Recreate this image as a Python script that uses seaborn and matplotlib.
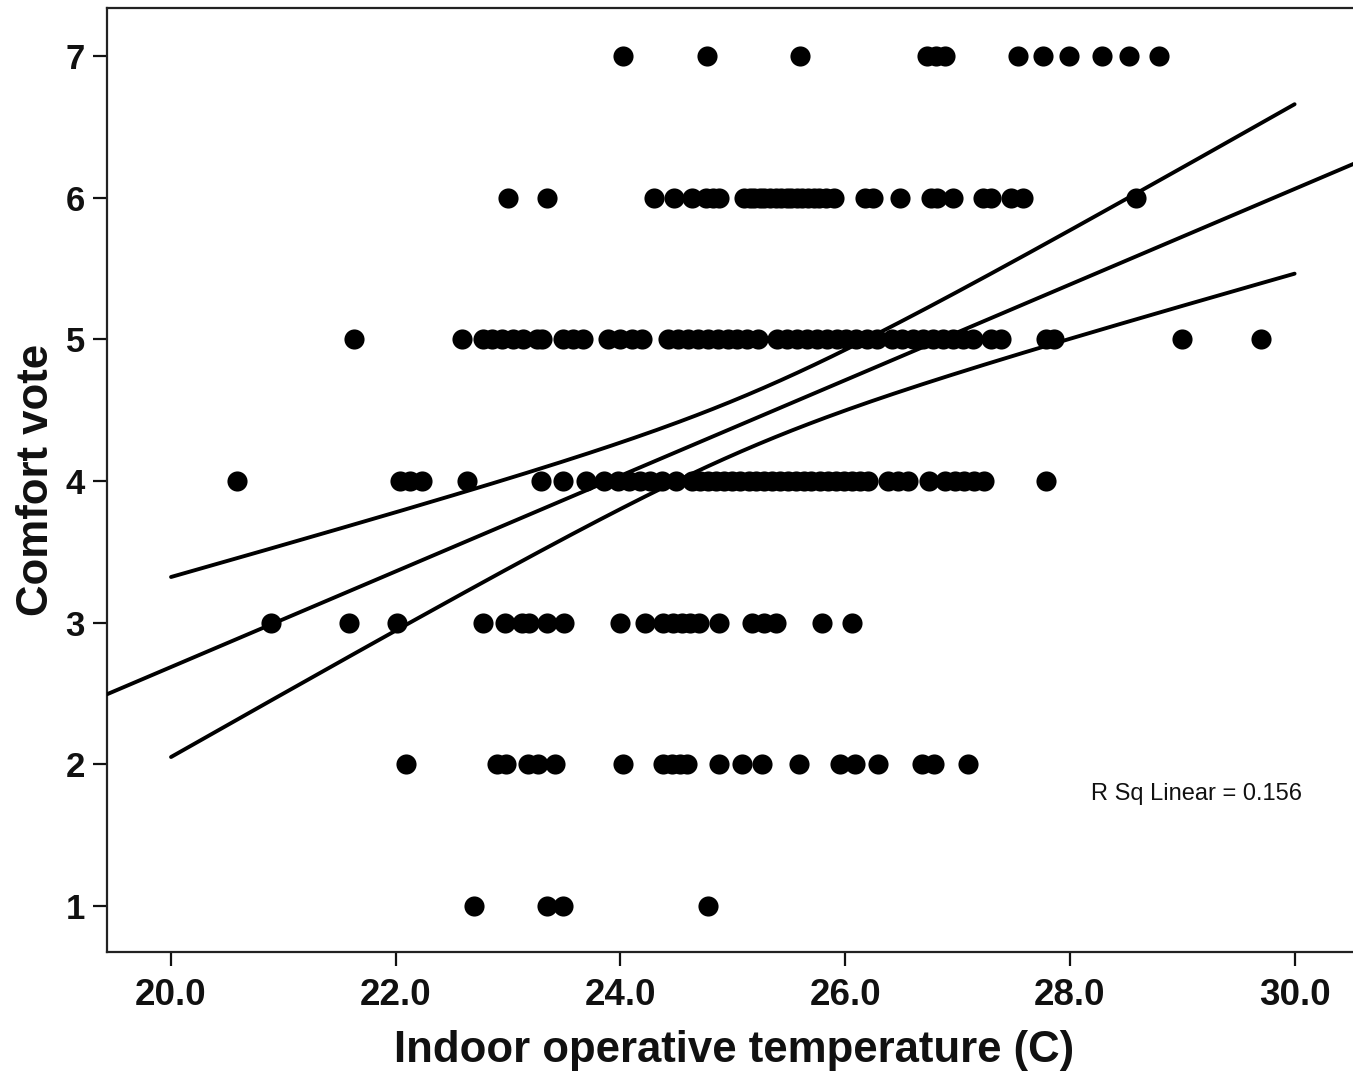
import numpy as np
import pandas as pd
import matplotlib
matplotlib.use("Agg")
import matplotlib.pyplot as plt
import seaborn as sns

# Indoor operative temperature (C) of each response, grouped by comfort vote
temp_vote7 = [24.02, 24.77, 25.60, 26.73, 26.81, 26.89, 27.54, 27.76, 27.99, 28.29, 28.53, 28.79]
temp_vote6 = [23.00, 23.35, 24.30, 24.48, 24.64, 24.76, 24.82, 24.88, 25.10, 25.15, 25.19,
              25.24, 25.28, 25.33, 25.38, 25.43, 25.48, 25.52, 25.57, 25.62, 25.67, 25.72,
              25.77, 25.83, 25.90, 26.18, 26.25, 26.49, 26.76, 26.82, 26.96, 27.23, 27.30,
              27.48, 27.58, 28.59]
temp_vote5 = [21.63, 22.59, 22.78, 22.86, 22.95, 23.04, 23.13, 23.26, 23.30, 23.49, 23.58,
              23.67, 23.89, 24.00, 24.10, 24.19, 24.42, 24.51, 24.60, 24.69, 24.78, 24.87,
              24.96, 25.04, 25.13, 25.22, 25.39, 25.48, 25.57, 25.66, 25.75, 25.84, 25.93,
              26.01, 26.10, 26.19, 26.28, 26.42, 26.51, 26.60, 26.69, 26.78, 26.87, 26.96,
              27.05, 27.14, 27.30, 27.39, 27.79, 27.86, 29.00, 29.70]
temp_vote4 = [20.59, 22.04, 22.13, 22.23, 22.63, 23.29, 23.49, 23.69, 23.85, 23.98, 24.08,
              24.17, 24.26, 24.37, 24.49, 24.64, 24.71, 24.78, 24.85, 24.92, 24.99, 25.06,
              25.14, 25.21, 25.28, 25.35, 25.42, 25.49, 25.56, 25.63, 25.70, 25.78, 25.85,
              25.92, 25.99, 26.06, 26.13, 26.20, 26.38, 26.47, 26.56, 26.75, 26.89, 26.98,
              27.06, 27.15, 27.24, 27.79]
temp_vote3 = [20.89, 21.58, 22.01, 22.78, 22.97, 23.12, 23.19, 23.35, 23.50, 24.00, 24.22,
              24.38, 24.47, 24.55, 24.62, 24.70, 24.88, 25.17, 25.28, 25.38, 25.79, 26.06]
temp_vote2 = [22.09, 22.90, 22.98, 23.18, 23.27, 23.42, 24.02, 24.38, 24.46, 24.53, 24.59,
              24.88, 25.08, 25.26, 25.59, 25.95, 26.09, 26.29, 26.68, 26.79, 27.09]
temp_vote1 = [22.70, 23.35, 23.49, 24.78]

votes = [7, 6, 5, 4, 3, 2, 1]
temps_by_vote = [temp_vote7, temp_vote6, temp_vote5, temp_vote4,
                 temp_vote3, temp_vote2, temp_vote1]

x_ticks = [20.0, 22.0, 24.0, 26.0, 28.0, 30.0]
y_ticks = [1, 2, 3, 4, 5, 6, 7]
r_sq_label = "R Sq Linear = 0.156"

df = pd.DataFrame({
    "temp": np.concatenate(temps_by_vote),
    "vote": np.concatenate([[v] * len(t) for v, t in zip(votes, temps_by_vote)]),
})

# Least-squares fit and 95% confidence band of the mean
x = df["temp"].to_numpy()
y = df["vote"].to_numpy()
n = len(x)
slope, intercept = np.polyfit(x, y, 1)
resid = y - (intercept + slope * x)
s = np.sqrt(np.sum(resid ** 2) / (n - 2))
sxx = np.sum((x - x.mean()) ** 2)
t_crit = 1.97

sns.set_theme(style="ticks")
plt.rcParams["font.family"] = ["Liberation Sans", "DejaVu Sans"]

fig = plt.figure(figsize=(13.53, 10.74), dpi=100)
ax = fig.add_axes([107 / 1353, 1 - 952 / 1074, (1362 - 107) / 1353, (952 - 8) / 1074])

xmin, xmax = 19.43, 30.6
ymin, ymax = 0.675, 7.339

sns.scatterplot(data=df, x="temp", y="vote", ax=ax, color="black",
                s=210, linewidth=0, marker="o", zorder=3, legend=False)

xf = np.linspace(xmin, xmax, 50)
fit = pd.DataFrame({"temp": xf, "vote": intercept + slope * xf})
sns.lineplot(data=fit, x="temp", y="vote", ax=ax, color="black", lw=2.8,
             estimator=None, zorder=4)

xc = np.linspace(20.0, 30.0, 200)
yc = intercept + slope * xc
half = t_crit * s * np.sqrt(1.0 / n + (xc - x.mean()) ** 2 / sxx)
for band in (yc + half, yc - half):
    sns.lineplot(x=xc, y=band, ax=ax, color="black", lw=2.8,
                 estimator=None, zorder=4)

ax.set_xlim(xmin, xmax)
ax.set_ylim(ymin, ymax)
ax.set_xticks(x_ticks)
ax.set_xticklabels([f"{v:.1f}" for v in x_ticks])
ax.set_yticks(y_ticks)
ax.set_yticklabels([str(v) for v in y_ticks])

for side in ("left", "bottom", "top", "right"):
    ax.spines[side].set_linewidth(1.6)
    ax.spines[side].set_color("#222222")

ax.tick_params(axis="x", direction="out", length=10, width=1.6, pad=9,
               labelsize=26.5, colors="#111111")
ax.tick_params(axis="y", direction="out", length=10, width=1.6, pad=6,
               labelsize=25, colors="#111111")
for lab in ax.get_xticklabels() + ax.get_yticklabels():
    lab.set_fontweight("bold")

ax.set_xlabel("Indoor operative temperature (C)", fontsize=31.5, fontweight="bold",
              color="#111111", labelpad=12)
ax.set_ylabel("Comfort vote", fontsize=31.5, fontweight="bold", color="#111111",
              labelpad=6)

ax.text(28.19, 1.79, r_sq_label, fontsize=17, color="#111111",
        ha="left", va="center")

fig.savefig("out.png", dpi=100, facecolor="white")
